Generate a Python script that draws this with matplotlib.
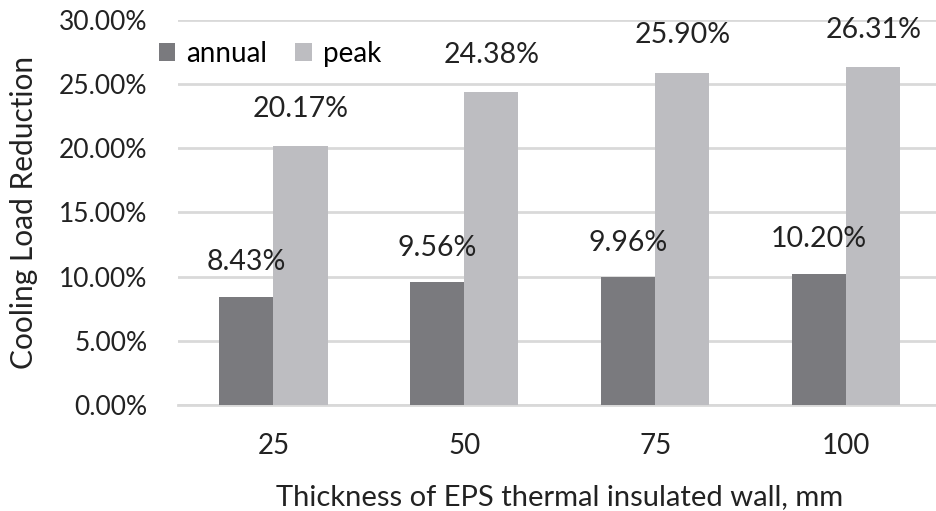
import matplotlib
matplotlib.use("Agg")
import matplotlib.pyplot as plt
import numpy as np
from matplotlib.ticker import FuncFormatter

plt.rcParams['font.family'] = ['Lato', 'DejaVu Sans']

categories = ["25", "50", "75", "100"]
annual = [8.43, 9.56, 9.96, 10.20]
peak = [20.17, 24.38, 25.90, 26.31]
yticks = [0, 5, 10, 15, 20, 25, 30]

fig = plt.figure(figsize=(9.37, 5.11), dpi=100)
ax = fig.add_axes([0.19, 0.2074, 0.815, 0.7535])

x = np.arange(len(categories))
w = 0.283
c_ann = '#7a7a7e'
c_peak = '#bdbdc1'
ax.bar(x - w/2, annual, w, color=c_ann, label='annual', zorder=3)
ax.bar(x + w/2, peak, w, color=c_peak, label='peak', zorder=3)

for i in range(len(categories)):
    ax.text(x[i] - w/2, annual[i] + 2.7, f"{annual[i]:.2f}%", ha='center', va='center', fontsize=20.5, color='#222222')
    ax.text(x[i] + w/2, peak[i] + 2.9, f"{peak[i]:.2f}%", ha='center', va='center', fontsize=20.5, color='#222222')

ax.set_ylim(0, 30)
ax.set_xlim(-0.5, 3.5)
ax.set_yticks(yticks)
ax.yaxis.set_major_formatter(FuncFormatter(lambda v, p: f"{v:.2f}%"))
ax.set_xticks(x)
ax.set_xticklabels(categories)
ax.tick_params(axis='y', length=0, labelsize=19, colors='#222222', pad=22)
ax.tick_params(axis='x', length=0, labelsize=20, colors='#222222', pad=20)
ax.grid(axis='y', color='#d9d9d9', linewidth=2, zorder=0)
for s in ['top', 'right', 'left']:
    ax.spines[s].set_visible(False)
ax.spines['bottom'].set_color('#d9d9d9')
ax.spines['bottom'].set_linewidth(2)

ax.set_ylabel('Cooling Load Reduction', fontsize=21.5, color='#222222')
ax.set_xlabel('Thickness of EPS thermal insulated wall, mm', fontsize=21, color='#222222', labelpad=18)
ax.yaxis.set_label_coords(-0.183, 0.5)

ax.legend(loc='upper left', bbox_to_anchor=(-0.04, 0.975), ncol=2, frameon=False, fontsize=20,
          handlelength=0.6, handleheight=0.6, handletextpad=0.4, columnspacing=1.0, borderaxespad=0)

fig.savefig('out.png', dpi=100)
